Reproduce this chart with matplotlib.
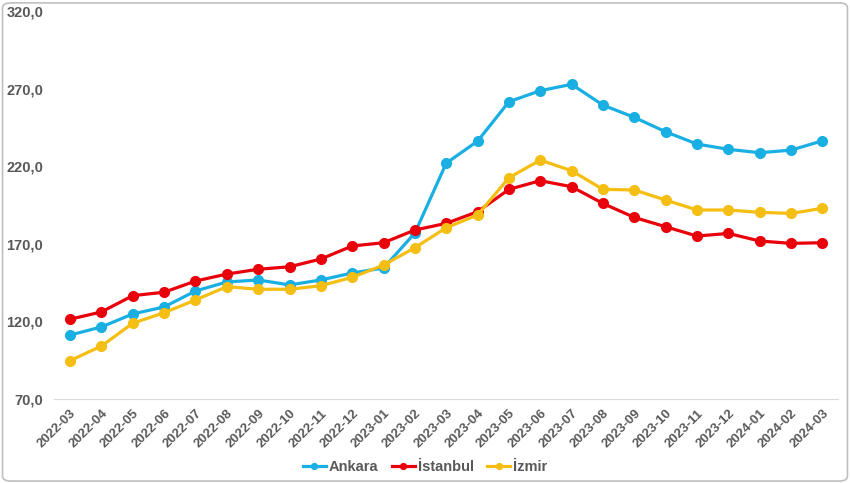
import matplotlib.pyplot as plt
from matplotlib.patches import FancyBboxPatch

plt.rcParams['font.family'] = ['Liberation Sans', 'DejaVu Sans']

# Data
months = ["2022-03", "2022-04", "2022-05", "2022-06", "2022-07", "2022-08",
          "2022-09", "2022-10", "2022-11", "2022-12", "2023-01", "2023-02",
          "2023-03", "2023-04", "2023-05", "2023-06", "2023-07", "2023-08",
          "2023-09", "2023-10", "2023-11", "2023-12", "2024-01", "2024-02",
          "2024-03"]
ankara = [111.2, 116.4, 124.8, 129.3, 139.6, 145.4, 146.7, 143.5, 146.7, 151.2,
          154.4, 177.0, 222.0, 236.2, 261.6, 268.7, 272.8, 259.4, 251.5, 242.2,
          234.3, 230.9, 228.7, 230.4, 236.4]
istanbul = [121.4, 126.1, 136.6, 138.8, 146.0, 150.5, 153.6, 155.2, 160.2, 168.6,
            170.7, 178.9, 183.2, 190.7, 205.1, 210.7, 206.8, 196.0, 187.0, 181.0,
            175.0, 176.7, 171.8, 170.3, 170.7]
izmir = [94.7, 104.1, 118.8, 125.6, 133.8, 142.4, 140.7, 140.7, 143.0, 148.4,
         156.3, 167.5, 180.4, 188.6, 212.6, 224.0, 217.1, 205.1, 204.7, 198.2,
         191.8, 191.8, 190.3, 189.6, 192.9]
yticks = [70, 120, 170, 220, 270, 320]

series = [("Ankara", ankara, "#1AAFE3"),
          ("İstanbul", istanbul, "#E8000B"),
          ("İzmir", izmir, "#F5BE12")]

fig = plt.figure(figsize=(8.5, 4.83), dpi=100)
ax = fig.add_axes([0.064, 0.174, 0.922, 0.803])

x = range(len(months))
for name, vals, col in series:
    ax.plot(x, vals, color=col, lw=2.3, marker="o", ms=7, label=name)

ax.set_xlim(-0.5, len(months) - 0.5)
ax.set_ylim(70, 320)
ax.set_yticks(yticks)
ax.set_yticklabels([f"{v:.1f}".replace(".", ",") for v in yticks])
ax.set_xticks(list(x))
ax.set_xticklabels(months, rotation=45, ha="right", rotation_mode="anchor")

tick_col = "#595959"
ax.tick_params(axis="x", length=0, labelsize=9.5, labelcolor=tick_col, pad=6)
ax.tick_params(axis="y", length=0, labelsize=10.5, labelcolor=tick_col, pad=8)
for lbl in ax.get_xticklabels() + ax.get_yticklabels():
    lbl.set_fontweight("bold")

for s in ["top", "right", "left"]:
    ax.spines[s].set_visible(False)
ax.spines["bottom"].set_color("#D9D9D9")

leg = fig.legend(loc="center", bbox_to_anchor=(0.5, 0.033), ncol=3, frameon=False,
                 fontsize=10.5, handlelength=1.6, markerscale=0.6, columnspacing=0.9,
                 handletextpad=0.2)
for t in leg.get_texts():
    t.set_color(tick_col)
    t.set_fontweight("bold")

# outer border
fig.patches.append(FancyBboxPatch((0.003, 0.004), 0.994, 0.99,
                                  boxstyle="round,pad=0,rounding_size=0.01",
                                  transform=fig.transFigure, fill=False,
                                  edgecolor="#BFBFBF", lw=1.2))

fig.savefig("out.png", dpi=100)
